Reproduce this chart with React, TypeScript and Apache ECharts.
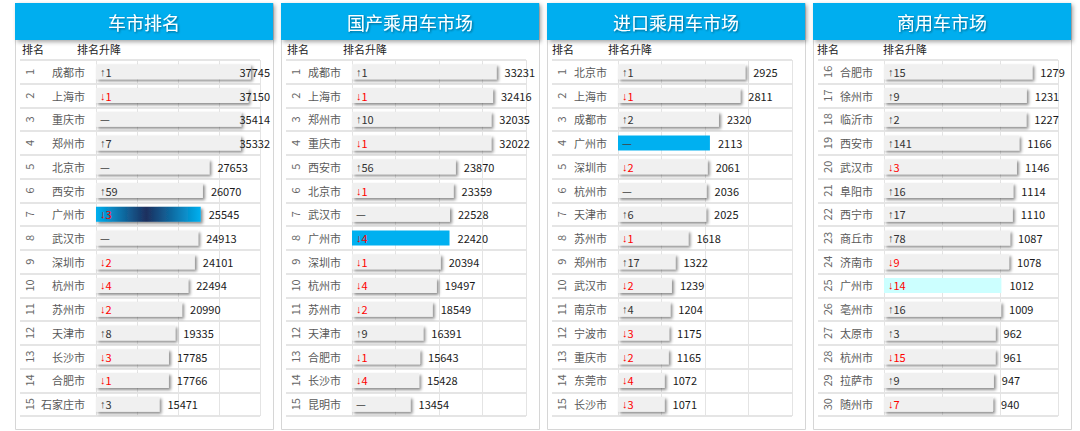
import React, { useEffect, useRef } from "react";
import * as echarts from "echarts";

// ---------- DATA ----------
const titles = ["车市排名", "国产乘用车市场", "进口乘用车市场", "商用车市场"];
const headRank = "排名";
const headChange = "排名升降";

const ranksA = ["1", "2", "3", "4", "5", "6", "7", "8", "9", "10", "11", "12", "13", "14", "15"];
const ranksB = ["16", "17", "18", "19", "20", "21", "22", "23", "24", "25", "26", "27", "28", "29", "30"];

const cities1 = ["成都市", "上海市", "重庆市", "郑州市", "北京市", "西安市", "广州市", "武汉市", "深圳市", "杭州市", "苏州市", "天津市", "长沙市", "合肥市", "石家庄市"];
const values1 = [37745, 37150, 35414, 35332, 27653, 26070, 25545, 24913, 24101, 22494, 20990, 19335, 17785, 17766, 15471];
const changes1 = ["↑1", "↓1", "—", "↑7", "—", "↑59", "↓3", "—", "↓2", "↓4", "↓2", "↑8", "↓3", "↓1", "↑3"];

const cities2 = ["成都市", "上海市", "郑州市", "重庆市", "西安市", "北京市", "武汉市", "广州市", "深圳市", "杭州市", "苏州市", "天津市", "合肥市", "长沙市", "昆明市"];
const values2 = [33231, 32416, 32035, 32022, 23870, 23359, 22528, 22420, 20394, 19497, 18549, 16391, 15643, 15428, 13454];
const changes2 = ["↑1", "↓1", "↑10", "↓1", "↑56", "↓1", "—", "↓4", "↓1", "↓4", "↓2", "↑9", "↓1", "↓4", "—"];

const cities3 = ["北京市", "上海市", "成都市", "广州市", "深圳市", "杭州市", "天津市", "苏州市", "郑州市", "武汉市", "南京市", "宁波市", "重庆市", "东莞市", "长沙市"];
const values3 = [2925, 2811, 2320, 2113, 2061, 2036, 2025, 1618, 1322, 1239, 1204, 1175, 1165, 1072, 1071];
const changes3 = ["↑1", "↓1", "↑2", "—", "↓2", "—", "↑6", "↓1", "↑17", "↓2", "↑4", "↓3", "↓2", "↓4", "↓3"];

const cities4 = ["合肥市", "徐州市", "临沂市", "西安市", "武汉市", "阜阳市", "西宁市", "商丘市", "济南市", "广州市", "亳州市", "太原市", "杭州市", "拉萨市", "随州市"];
const values4 = [1279, 1231, 1227, 1166, 1146, 1114, 1110, 1087, 1078, 1012, 1009, 962, 961, 947, 940];
const changes4 = ["↑15", "↑9", "↑2", "↑141", "↓3", "↑16", "↑17", "↑78", "↓9", "↓14", "↑16", "↑3", "↓15", "↑9", "↓7"];

const axisMax = [40000, 40000, 4000, 1500];
const axisInterval = [10000, 10000, 1000, 500];
const highlightCity = "广州市";

// ---------- LAYOUT / STYLE ----------
const FONT = "'Noto Sans CJK SC', 'Noto Sans', sans-serif";
const PANEL_LEFT = [15, 281, 547, 813];
const PANEL_W = 258;
const TABLE_TOP = 60;
const TABLE_H = 356;
const NAME_COL = [81, 71, 71, 71];
const SUBHEAD_X = [
  [7, 62],
  [6, 62],
  [5, 61],
  [4, 70],
];

const highlightStyles: any[] = [
  {
    color: new echarts.graphic.LinearGradient(0, 0, 1, 0, [
      { offset: 0, color: "#00b0f0" },
      { offset: 0.48, color: "#1c2f5e" },
      { offset: 1, color: "#00b0f0" },
    ]),
  },
  { color: "#00b0f0", shadowBlur: 0, shadowOffsetX: 0, shadowOffsetY: 0, shadowColor: "transparent" },
  { color: "#00b0f0", shadowBlur: 0, shadowOffsetX: 0, shadowOffsetY: 0, shadowColor: "transparent" },
  { color: "#ccffff", shadowBlur: 0, shadowOffsetX: 0, shadowOffsetY: 0, shadowColor: "transparent" },
];

const panels = [
  { title: titles[0], ranks: ranksA, cities: cities1, values: values1, changes: changes1 },
  { title: titles[1], ranks: ranksA, cities: cities2, values: values2, changes: changes2 },
  { title: titles[2], ranks: ranksA, cities: cities3, values: values3, changes: changes3 },
  { title: titles[3], ranks: ranksB, cities: cities4, values: values4, changes: changes4 },
];

function buildOption() {
  const grid: any[] = [];
  const xAxis: any[] = [];
  const yAxis: any[] = [];
  const series: any[] = [];
  const graphic: any[] = [];

  panels.forEach((p, i) => {
    const L = PANEL_LEFT[i];
    const tableLeft = L + 5;
    const tableRight = L + 245;
    const barLeft = L + NAME_COL[i];
    const gHelper = i * 2;
    const gBar = i * 2 + 1;

    grid.push({ left: tableLeft, top: TABLE_TOP, width: tableRight - tableLeft, height: TABLE_H });
    grid.push({ left: barLeft, top: TABLE_TOP, width: tableRight - barLeft, height: TABLE_H });

    xAxis.push({ type: "value", gridIndex: gHelper, show: false, min: 0, max: 1 });
    xAxis.push({
      type: "value",
      gridIndex: gBar,
      min: 0,
      max: axisMax[i],
      interval: axisInterval[i],
      axisLabel: { show: false },
      axisLine: { show: false },
      axisTick: { show: false },
      splitLine: { show: true, lineStyle: { color: "#e4e4e4", width: 1 } },
    });

    yAxis.push({
      type: "category",
      gridIndex: gHelper,
      data: p.ranks,
      inverse: true,
      axisLine: { show: false },
      axisTick: { show: false },
      axisLabel: {
        inside: true,
        rotate: 90,
        margin: 3,
        interval: 0,
        color: "#666",
        fontSize: 11,
        fontFamily: FONT,
      },
      splitLine: { show: true, interval: 0, lineStyle: { color: "#dcdcdc", width: 1.5 } },
    });
    yAxis.push({
      type: "category",
      gridIndex: gBar,
      data: p.cities,
      inverse: true,
      axisLine: { show: false },
      axisTick: { show: false },
      splitLine: { show: false },
      axisLabel: { margin: 11, interval: 0, color: "#595959", fontSize: 11, fontFamily: FONT },
    });

    const limit = tableRight + 10;
    series.push({
      type: "bar",
      xAxisIndex: gBar,
      yAxisIndex: gBar,
      barWidth: 15,
      data: p.values.map((v, k) =>
        p.cities[k] === highlightCity ? { value: v, itemStyle: highlightStyles[i] } : v
      ),
      itemStyle: {
        color: "#f0f0f0",
        shadowBlur: 3,
        shadowOffsetX: 2,
        shadowOffsetY: 2,
        shadowColor: "rgba(0,0,0,0.45)",
      },
      label: {
        show: true,
        position: "right",
        distance: 8,
        color: "#1a1a1a",
        fontSize: 11,
        fontFamily: FONT,
      },
      labelLayout: (params: any) => {
        const r = params.labelRect;
        const right = r.x + r.width;
        return right > limit ? { dx: limit - right } : {};
      },
    });
    series.push({
      type: "bar",
      xAxisIndex: gBar,
      yAxisIndex: gBar,
      barWidth: 15,
      barGap: "-100%",
      silent: true,
      data: p.values,
      itemStyle: { color: "rgba(0,0,0,0)" },
      label: {
        show: true,
        position: "insideLeft",
        distance: 4,
        fontSize: 11,
        fontFamily: FONT,
        formatter: (prm: any) => {
          const c = p.changes[prm.dataIndex];
          if (c.startsWith("↑")) return "{ua|↑}{un|" + c.slice(1) + "}";
          if (c.startsWith("↓")) return "{da|↓}{dn|" + c.slice(1) + "}";
          return "{fl|" + c + "}";
        },
        rich: {
          ua: { color: "#404040", fontSize: 11, fontFamily: "'Liberation Sans', sans-serif" },
          un: { color: "#333", fontSize: 11, fontFamily: FONT },
          da: { color: "#ff0000", fontSize: 11, fontFamily: "'Liberation Sans', sans-serif" },
          dn: { color: "#ff0000", fontSize: 11, fontFamily: FONT },
          fl: { color: "#404040", fontSize: 11, fontFamily: FONT },
        },
      },
    });

    // panel frame
    graphic.push({
      type: "rect",
      silent: true,
      shape: { x: L + 0.5, y: 3.5, width: PANEL_W, height: 426 },
      style: { fill: "none", stroke: "#d6d6d6", lineWidth: 1 },
    });
    graphic.push({
      type: "rect",
      silent: true,
      shape: { x: L, y: 3, width: PANEL_W, height: 37 },
      style: {
        fill: "#00aeef",
        shadowBlur: 4,
        shadowOffsetX: 2,
        shadowOffsetY: 2,
        shadowColor: "rgba(0,0,0,0.35)",
      },
    });
    graphic.push({
      type: "text",
      silent: true,
      x: L + PANEL_W / 2,
      y: 22,
      style: {
        text: p.title,
        fill: "#ffffff",
        font: "18px " + FONT,
        textAlign: "center",
        textVerticalAlign: "middle",
        textShadowColor: "rgba(0,0,0,0.45)",
        textShadowBlur: 2,
        textShadowOffsetX: 1,
        textShadowOffsetY: 1,
      },
    });
    graphic.push({
      type: "text",
      silent: true,
      x: L + SUBHEAD_X[i][0],
      y: 49,
      style: { text: headRank, fill: "#222", font: "11px " + FONT, textVerticalAlign: "middle" },
    });
    graphic.push({
      type: "text",
      silent: true,
      x: L + SUBHEAD_X[i][1],
      y: 49,
      style: { text: headChange, fill: "#222", font: "11px " + FONT, textVerticalAlign: "middle" },
    });
  });

  return {
    animation: false,
    backgroundColor: "#ffffff",
    textStyle: { fontFamily: FONT },
    grid,
    xAxis,
    yAxis,
    series,
    graphic,
  };
}

export default function App() {
  const ref = useRef<HTMLDivElement>(null);
  useEffect(() => {
    if (!ref.current) return;
    const chart = echarts.init(ref.current, undefined, { renderer: "svg" });
    chart.setOption(buildOption() as any);
    return () => chart.dispose();
  }, []);
  return (
    <div
      ref={ref}
      style={{ position: "fixed", left: 0, top: 0, width: 1080, height: 431, background: "#fff" }}
    />
  );
}
